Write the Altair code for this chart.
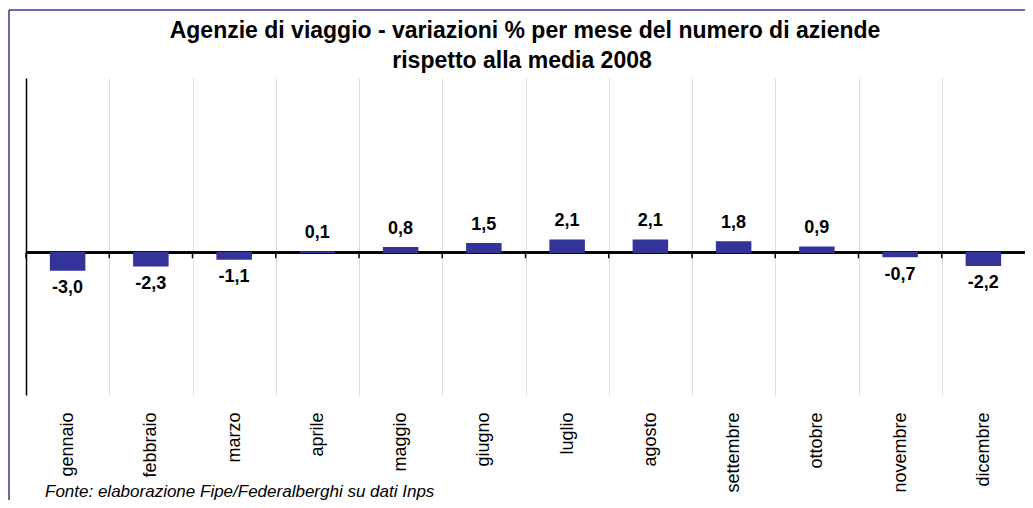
import altair as alt
import pandas as pd

months = ["gennaio", "febbraio", "marzo", "aprile", "maggio", "giugno",
          "luglio", "agosto", "settembre", "ottobre", "novembre", "dicembre"]
values = [-3.0, -2.3, -1.1, 0.1, 0.8, 1.5, 2.1, 2.1, 1.8, 0.9, -0.7, -2.2]
labels = ["-3,0", "-2,3", "-1,1", "0,1", "0,8", "1,5", "2,1", "2,1", "1,8", "0,9", "-0,7", "-2,2"]
title_line1 = ["Agenzie di viaggio - variazioni % per mese del numero di aziende"]
title_line2 = ["rispetto alla media 2008"]
source_note = ["Fonte: elaborazione Fipe/Federalberghi su dati Inps"]

df = pd.DataFrame({"mese": months, "v": values, "lab": labels})
FONT = "Liberation Sans"
BAR = "#333399"

xscale = alt.Scale(domain=months, paddingInner=0, paddingOuter=0)
yscale = alt.Scale(domain=[-24.5, 30], nice=False, zero=False)

base = alt.Chart(df)

zero = alt.Chart(df).mark_rule(color="black", strokeWidth=1.5).encode(y=alt.datum(0))

bars = base.mark_bar(size=34, color=BAR, stroke=BAR, strokeWidth=1.5).encode(
    x=alt.X("mese:N", scale=xscale, sort=months,
            axis=alt.Axis(title=None, domain=False, ticks=False, grid=True,
                          tickBand="extent", gridColor="#dedede", gridWidth=1,
                          labelAngle=270, labelFont=FONT, labelFontSize=18,
                          labelColor="black", labelPadding=17)),
    y=alt.Y("v:Q", scale=yscale,
            axis=alt.Axis(title=None, labels=False, ticks=False, grid=False,
                          domain=True, domainColor="black", domainWidth=1.5)),
    y2=alt.datum(0),
)

zticks = base.mark_rule(color="black", strokeWidth=1.5).encode(
    x=alt.X("mese:N", sort=months, bandPosition=0),
    y=alt.datum(0),
    y2=alt.datum(-1.0),
)

pos_lab = base.transform_filter("datum.v > 0").mark_text(
    font=FONT, fontSize=18, fontWeight="bold", color="black", dy=-19
).encode(x=alt.X("mese:N", sort=months), y="v:Q", text="lab:N")

neg_lab = base.transform_filter("datum.v < 0").mark_text(
    font=FONT, fontSize=18, fontWeight="bold", color="black", dy=18
).encode(x=alt.X("mese:N", sort=months), y="v:Q", text="lab:N")

t1 = alt.Chart(pd.DataFrame({"t": title_line1})).mark_text(
    font=FONT, fontSize=23, fontWeight="bold", color="black", align="center",
    baseline="alphabetic"
).encode(text="t:N", x=alt.value(499), y=alt.value(-40))

t2 = alt.Chart(pd.DataFrame({"t": title_line2})).mark_text(
    font=FONT, fontSize=23, fontWeight="bold", color="black", align="center",
    baseline="alphabetic"
).encode(text="t:N", x=alt.value(496), y=alt.value(-10))

note = alt.Chart(pd.DataFrame({"t": source_note})).mark_text(
    font=FONT, fontSize=17, fontStyle="italic", color="black", align="left",
    baseline="alphabetic"
).encode(text="t:N", x=alt.value(19), y=alt.value(419))

frame_left = alt.Chart(pd.DataFrame({"t": [0]})).mark_rule(color="#3a3a8c", strokeWidth=1.5).encode(
    x=alt.value(-17), y=alt.value(-68), y2=alt.value(440))
frame_top = alt.Chart(pd.DataFrame({"t": [0]})).mark_rule(color="#3a3a8c", strokeWidth=1.5).encode(
    x=alt.value(-17), x2=alt.value(1010), y=alt.value(-68))

chart = alt.layer(zero, bars, zticks, pos_lab, neg_lab, t1, t2, note, frame_left, frame_top).properties(
    width=999, height=317,
    autosize=alt.AutoSizeParams(type="none"),
    padding={"left": 18, "top": 70, "right": 0, "bottom": 105},
).configure_view(stroke=None)

chart.save("out.html", embed_options={"renderer": "svg", "actions": False})
